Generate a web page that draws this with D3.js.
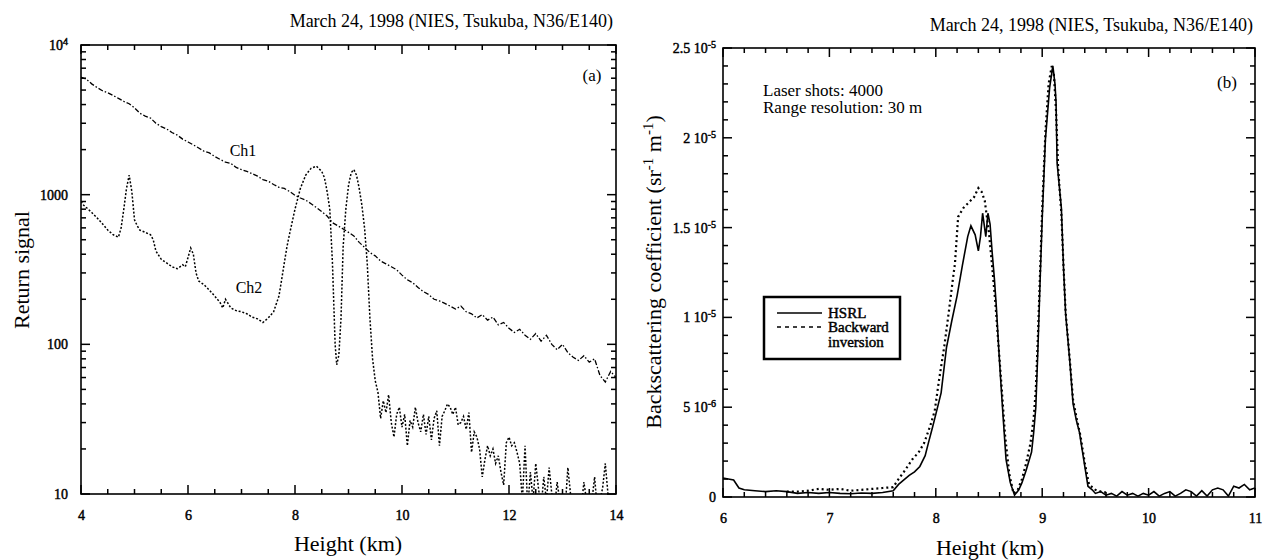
<!DOCTYPE html>
<html>
<head>
<meta charset="utf-8">
<script src="https://cdn.jsdelivr.net/npm/d3@7"></script>
<style>
  body { margin: 0; background: #fff; }
  text { font-family: "Liberation Serif", "Times New Roman", serif; fill: #000; }
</style>
</head>
<body>
<svg id="chart" width="1264" height="560"></svg>
<script>
// ---- panel (a): return signals ----
var ch1Height = [4.0,4.1,4.2,4.3,4.4,4.5,4.6,4.7,4.8,4.9,
  5.0,5.1,5.2,5.3,5.4,5.5,5.6,5.7,5.8,5.9,
  6.0,6.1,6.2,6.3,6.4,6.5,6.6,6.7,6.8,6.9,
  7.0,7.1,7.2,7.3,7.4,7.5,7.6,7.7,7.8,7.9,
  8.0,8.1,8.2,8.3,8.4,8.5,8.6,8.7,8.8,8.9,
  9.0,9.1,9.2,9.3,9.4,9.5,9.6,9.7,9.8,9.9,
  10.0,10.1,10.2,10.3,10.4,10.5,10.6,10.7,10.8,10.9,
  11.0,11.1,11.2,11.3,11.4,11.5,11.6,11.7,11.8,11.9,
  12.0,12.1,12.2,12.3,12.4,12.5,12.6,12.7,12.8,12.9,
  13.0,13.1,13.2,13.3,13.4,13.5,13.6,13.7,13.8,13.9,14.0];
var ch1Signal = [6100,5900,5500,5200,4950,4800,4600,4400,4200,4050,
  3800,3500,3350,3250,3000,2850,2750,2600,2500,2350,
  2250,2150,2050,1950,1900,1800,1720,1650,1620,1520,
  1470,1430,1380,1330,1260,1230,1170,1120,1100,1050,
  990,950,920,870,820,770,720,650,620,590,
  560,530,480,445,410,390,360,345,330,315,
  290,270,258,240,225,215,200,195,188,180,
  172,180,165,160,150,158,145,152,135,140,
  128,120,126,115,108,118,105,115,100,92,
  100,88,82,78,84,76,80,62,56,66,60];

var ch2Height = [4.0,4.05,4.1,4.2,4.3,4.4,4.5,4.55,4.6,4.7,
  4.75,4.8,4.85,4.9,4.95,5.0,5.05,5.1,5.2,5.3,
  5.35,5.4,5.5,5.6,5.7,5.8,5.9,5.95,6.0,6.05,
  6.1,6.15,6.2,6.3,6.4,6.5,6.6,6.65,6.7,6.8,
  6.9,7.0,7.1,7.2,7.3,7.4,7.5,7.6,7.7,7.75,
  7.8,7.85,7.9,8.0,8.1,8.2,8.3,8.4,8.5,8.55,
  8.6,8.65,8.7,8.75,8.78,8.82,8.86,8.9,8.95,9.0,
  9.05,9.1,9.15,9.2,9.25,9.3,9.35,9.4,9.45,
  9.5,9.55,9.6,9.65,9.7,9.75,9.8,9.85,9.9,9.95,
  10.0,10.05,10.1,10.15,10.2,10.25,10.3,10.35,10.4,10.45,
  10.5,10.55,10.6,10.65,10.7,10.75,10.8,10.85,10.9,10.95,
  11.0,11.05,11.1,11.15,11.2,11.25,11.3,11.35,11.4,11.45,
  11.5,11.55,11.6,11.65,11.7,11.75,11.8,11.85,11.9,11.95,
  12.0,12.05,12.1,12.15,12.2,12.25,12.3,12.35,12.4,12.45,
  12.5,12.55,12.6,12.65,12.7,12.75,12.8,12.85,12.9,12.95,
  13.0,13.05,13.1,13.15,13.2,13.25,13.3,13.35,13.4,13.45,
  13.5,13.55,13.6,13.65,13.7,13.75,13.8,13.85,13.9];
var ch2Signal = [900,850,820,760,700,640,580,560,540,520,
  600,800,1100,1350,1050,680,620,580,560,540,
  500,420,370,350,330,320,340,330,380,440,
  400,300,265,250,230,210,190,175,200,175,
  168,165,160,152,148,140,150,165,210,270,
  350,450,550,800,1100,1350,1500,1550,1430,1300,
  1050,800,350,100,73,85,150,450,800,1150,
  1400,1470,1350,1100,850,600,350,150,80,
  57,48,32,42,35,46,30,24,34,38,
  28,34,21,31,28,38,30,26,34,25,
  33,23,32,36,21,33,36,40,38,34,
  38,29,30,33,27,35,19,26,24,20,
  13,17,21,18,20,16,18,14,11.5,22,
  24,21,22,19,16,9,21,8,14,9,
  16,11,8,13,9,15,10,8,12,9,
  10,8,15,10,8,9,8,8,12,9,
  8,9,13,8,9,11,16,10,8];

var xTicksA = [4, 6, 8, 10, 12, 14];
var xMinorA = [4.5, 5, 5.5, 6.5, 7, 7.5, 8.5, 9, 9.5, 10.5, 11, 11.5, 12.5, 13, 13.5];
var yTicksA = [10, 100, 1000, 10000];
var yMinorA = [20, 30, 40, 50, 60, 70, 80, 90, 200, 300, 400, 500, 600, 700, 800, 900,
  2000, 3000, 4000, 5000, 6000, 7000, 8000, 9000];

// ---- panel (b): backscattering coefficient, in units of 1e-6 sr-1 m-1 ----
var hsrlHeight = [6.0,6.05,6.1,6.15,6.2,6.3,6.4,6.5,6.6,6.7,
  6.8,6.9,7.0,7.1,7.2,7.3,7.4,7.5,7.6,7.65,
  7.7,7.75,7.8,7.85,7.9,7.93,7.97,8.0,8.05,8.1,
  8.15,8.2,8.25,8.3,8.33,8.37,8.4,8.42,8.44,8.47,
  8.49,8.51,8.53,8.55,8.57,8.59,8.61,8.63,8.66,8.7,
  8.74,8.78,8.81,8.85,8.9,8.92,8.94,8.96,8.98,9.0,
  9.03,9.07,9.1,9.12,9.13,9.14,9.18,9.2,9.22,9.26,
  9.29,9.32,9.35,9.39,9.43,9.47,9.5,
  9.55,9.6,9.65,9.7,9.75,9.8,9.85,9.9,9.95,10.0,
  10.05,10.1,10.15,10.2,10.25,10.3,10.35,10.4,10.45,10.5,
  10.55,10.6,10.65,10.7,10.75,10.8,10.85,10.9,10.95,11.0];
var hsrlBeta = [1.05,1.0,0.95,0.5,0.4,0.35,0.3,0.35,0.3,0.2,
  0.25,0.2,0.25,0.2,0.18,0.22,0.2,0.25,0.35,0.7,
  0.95,1.2,1.4,1.7,2.3,3.0,3.9,4.6,5.8,8.3,
  9.8,11.2,12.9,14.5,15.1,14.6,13.7,14.5,15.8,14.5,
  15.8,15.2,13.6,12.2,10.5,8.4,6.5,4.7,2.1,0.8,
  0.1,0.4,0.8,1.5,2.5,3.6,5.0,8.3,12.0,15.5,
  19.9,22.8,24.0,23.0,22.0,18.6,16.1,12.8,10.2,7.5,
  5.2,4.3,3.6,2.1,0.6,0.4,0.2,
  0.3,0.1,0.2,0.05,0.3,0.1,0.2,0.05,0.2,0.1,
  0.3,0.05,0.2,0.3,0.05,0.2,0.4,0.3,0.05,0.35,
  0.05,0.4,0.5,0.4,0.05,0.6,0.5,0.7,0.4,0.5];

var bwdHeight = [6.6,6.7,6.8,6.9,7.0,7.1,7.2,7.3,7.4,7.5,
  7.6,7.65,7.7,7.78,7.84,7.89,7.95,7.99,8.03,8.08,
  8.12,8.16,8.18,8.21,8.26,8.31,8.36,8.4,8.43,8.46,
  8.5,8.53,8.56,8.59,8.62,8.65,8.69,8.73,8.77,8.81,
  8.85,8.89,8.92,8.94,8.96,8.98,9.0,9.03,9.06,9.09,
  9.11,9.13,9.15,9.18,9.2,9.22,9.26,9.29,9.33,9.36,
  9.4,9.44,9.5,9.55,9.6];
var bwdBeta = [0.3,0.3,0.35,0.45,0.4,0.45,0.35,0.4,0.45,0.5,
  0.55,1.0,1.4,2.1,2.5,3.0,4.0,4.8,6.5,8.4,
  10.2,12.1,13.0,15.6,16.1,16.4,16.7,17.2,17.0,16.5,
  14.7,12.8,10.8,8.4,6.0,3.5,1.3,0.2,0.4,1.0,
  1.9,3.0,4.4,6.0,9.0,12.5,16.0,20.3,23.0,24.0,
  23.5,21.5,18.3,15.8,12.9,10.3,7.6,5.4,4.2,3.4,
  1.9,0.7,0.4,0.3,0.25];

var xTicksB = [6, 7, 8, 9, 10, 11];
var xMinorB = [6.2, 6.4, 6.6, 6.8, 7.2, 7.4, 7.6, 7.8, 8.2, 8.4, 8.6, 8.8,
  9.2, 9.4, 9.6, 9.8, 10.2, 10.4, 10.6, 10.8];
var yTicksB = [0, 5, 10, 15, 20, 25];
var yMinorB = [1, 2, 3, 4, 6, 7, 8, 9, 11, 12, 13, 14, 16, 17, 18, 19, 21, 22, 23, 24];
var yTickBaseB = ["0", "5 10", "1 10", "1.5 10", "2 10", "2.5 10"];
var yTickSupB = ["", "-6", "-5", "-5", "-5", "-5"];

var titleText = "March 24, 1998 (NIES, Tsukuba, N36/E140)";

var svg = d3.select("#chart");
svg.append("rect").attr("width", 1264).attr("height", 560).attr("fill", "#fff");

var serif = "Liberation Serif, Times New Roman, serif";

// inward ticks drawn as small filled bars, positioned by the scales
function tickBars(g, x, y, xMajor, xMinor, yMajor, yMinor) {
  var x0 = x.range()[0], x1 = x.range()[1], yb = y.range()[0], yt = y.range()[1];
  var bars = [];
  function addX(vals, len) {
    vals.forEach(function(v) {
      var px = x(v);
      bars.push({x: px - 0.75, y: yb - len, w: 1.5, h: len});
      bars.push({x: px - 0.75, y: yt, w: 1.5, h: len});
    });
  }
  function addY(vals, len) {
    vals.forEach(function(v) {
      var py = y(v);
      bars.push({x: x0, y: py - 0.75, w: len, h: 1.5});
      bars.push({x: x1 - len, y: py - 0.75, w: len, h: 1.5});
    });
  }
  addX(xMinor, 5); addX(xMajor, 9); addY(yMinor, 5); addY(yMajor, 9);
  g.selectAll(null).data(bars).enter().append("rect")
    .attr("x", function(d) { return d.x; }).attr("y", function(d) { return d.y; })
    .attr("width", function(d) { return d.w; }).attr("height", function(d) { return d.h; })
    .attr("fill", "#000");
}

function drawFrame(g, x, y, xMajor, xMinor, yMajor, yMinor) {
  var x0 = x.range()[0], x1 = x.range()[1], yb = y.range()[0], yt = y.range()[1];
  g.append("rect").attr("x", x0).attr("y", yt).attr("width", x1 - x0).attr("height", yb - yt)
    .attr("fill", "none").attr("stroke", "#000").attr("stroke-width", 1.6);
  tickBars(g, x, y, xMajor, xMinor, yMajor, yMinor);
}

function heavy(s, size) {
  s.attr("font-size", size).attr("font-family", serif)
    .attr("stroke", "#000").attr("stroke-width", 0.45);
}

function xLabels(g, x, yb, values) {
  g.append("g").attr("transform", "translate(0," + yb + ")")
    .call(d3.axisBottom(x).tickValues(values).tickSize(0).tickPadding(16).tickFormat(d3.format("d")))
    .call(function(s) {
      s.select(".domain").remove();
      s.attr("font-family", serif);
      heavy(s.selectAll("text"), 14);
    });
}

function supText(sel, base, sup, supSize) {
  sel.text(null);
  sel.append("tspan").text(base);
  if (sup) sel.append("tspan").attr("dy", "-0.5em").attr("font-size", supSize).text(sup);
}

function clip(id, x, y) {
  svg.append("clipPath").attr("id", id).append("rect")
    .attr("x", x.range()[0]).attr("y", y.range()[1])
    .attr("width", x.range()[1] - x.range()[0]).attr("height", y.range()[0] - y.range()[1]);
}

// ---------------- panel (a) ----------------
var xA = d3.scaleLinear().domain([4, 14]).range([81, 616]);
var yA = d3.scaleLog().domain([10, 10000]).range([494, 45]);
var gA = svg.append("g");

clip("clipA", xA, yA);
var lineA = d3.line().x(function(d) { return xA(d[0]); }).y(function(d) { return yA(d[1]); });
var plotA = gA.append("g").attr("clip-path", "url(#clipA)");
plotA.append("path").datum(d3.zip(ch1Height, ch1Signal)).attr("d", lineA)
  .attr("fill", "none").attr("stroke", "#000").attr("stroke-width", 1.3)
  .attr("stroke-dasharray", "5,2,1.5,2");
plotA.append("path").datum(d3.zip(ch2Height, ch2Signal)).attr("d", lineA)
  .attr("fill", "none").attr("stroke", "#000").attr("stroke-width", 1.5)
  .attr("stroke-dasharray", "2,1.8");

xLabels(gA, xA, 494, xTicksA);
gA.append("g").attr("transform", "translate(81,0)")
  .call(d3.axisLeft(yA).tickValues(yTicksA).tickSize(0).tickPadding(13).tickFormat(d3.format("d")))
  .call(function(s) {
    s.select(".domain").remove();
    s.attr("font-family", serif);
    heavy(s.selectAll("text"), 14);
    s.selectAll("text").each(function(d) { if (d >= 10000) supText(d3.select(this), "10", "4", 10); });
  });

gA.append("text").attr("x", 243).attr("y", 156).attr("text-anchor", "middle")
  .attr("font-size", 16).text("Ch1");
gA.append("text").attr("x", 249).attr("y", 293).attr("text-anchor", "middle")
  .attr("font-size", 16).text("Ch2");
gA.append("text").attr("x", 592).attr("y", 81).attr("text-anchor", "middle")
  .attr("font-size", 17).text("(a)");
gA.append("text").attr("x", 613).attr("y", 27).attr("text-anchor", "end")
  .attr("font-size", 18).text(titleText);
gA.append("text").attr("x", 348).attr("y", 551).attr("text-anchor", "middle")
  .attr("font-size", 22).text("Height (km)");
gA.append("text").attr("transform", "translate(29,270) rotate(-90)").attr("text-anchor", "middle")
  .attr("font-size", 22).text("Return signal");

// ---------------- panel (b) ----------------
var xB = d3.scaleLinear().domain([6, 11]).range([723, 1255]);
var yB = d3.scaleLinear().domain([0, 25]).range([497, 48]);
var gB = svg.append("g");

clip("clipB", xB, yB);
var lineB = d3.line().x(function(d) { return xB(d[0]); }).y(function(d) { return yB(d[1]); });
var plotB = gB.append("g").attr("clip-path", "url(#clipB)");
plotB.append("path").datum(d3.zip(bwdHeight, bwdBeta)).attr("d", lineB)
  .attr("fill", "none").attr("stroke", "#000").attr("stroke-width", 2.2)
  .attr("stroke-dasharray", "2,3");
plotB.append("path").datum(d3.zip(hsrlHeight, hsrlBeta)).attr("d", lineB)
  .attr("fill", "none").attr("stroke", "#000").attr("stroke-width", 1.6);

xLabels(gB, xB, 497, xTicksB);
gB.append("g").attr("transform", "translate(723,0)")
  .call(d3.axisLeft(yB).tickValues(yTicksB).tickSize(0).tickPadding(7).tickFormat(""))
  .call(function(s) {
    s.select(".domain").remove();
    s.attr("font-family", serif);
    heavy(s.selectAll("text"), 14);
    s.selectAll("text").each(function(d, i) { supText(d3.select(this), yTickBaseB[i], yTickSupB[i], 10); });
  });

gB.append("text").attr("x", 1227).attr("y", 88).attr("text-anchor", "middle")
  .attr("font-size", 17).text("(b)");
gB.append("text").attr("x", 1253).attr("y", 31).attr("text-anchor", "end")
  .attr("font-size", 18).text(titleText);
gB.append("text").attr("x", 763).attr("y", 96).attr("font-size", 17).text("Laser shots: 4000");
gB.append("text").attr("x", 763).attr("y", 113).attr("font-size", 17).text("Range resolution: 30 m");
gB.append("text").attr("x", 990).attr("y", 555).attr("text-anchor", "middle")
  .attr("font-size", 22).text("Height (km)");

var yLab = gB.append("text").attr("transform", "translate(661,272) rotate(-90)")
  .attr("text-anchor", "middle").attr("font-size", 22);
yLab.append("tspan").text("Backscattering coefficient (sr");
yLab.append("tspan").attr("dy", -8).attr("font-size", 15).text("-1");
yLab.append("tspan").attr("dy", 8).text(" m");
yLab.append("tspan").attr("dy", -8).attr("font-size", 15).text("-1");
yLab.append("tspan").attr("dy", 8).text(")");

// legend
var leg = gB.append("g");
leg.append("rect").attr("x", 764).attr("y", 297).attr("width", 136).attr("height", 62)
  .attr("fill", "#fff").attr("stroke", "#000").attr("stroke-width", 2.5);
leg.append("line").attr("x1", 777).attr("x2", 822).attr("y1", 313).attr("y2", 313)
  .attr("stroke", "#000").attr("stroke-width", 1.6);
leg.append("line").attr("x1", 777).attr("x2", 822).attr("y1", 327).attr("y2", 327)
  .attr("stroke", "#000").attr("stroke-width", 1.6).attr("stroke-dasharray", "4,4");
[["HSRL", 318], ["Backward", 332], ["inversion", 347]].forEach(function(t) {
  heavy(leg.append("text").attr("x", 828).attr("y", t[1]).text(t[0]), 15);
});

// frames and ticks last, on top of everything
drawFrame(svg.append("g"), xA, yA, xTicksA, xMinorA, yTicksA, yMinorA);
drawFrame(svg.append("g"), xB, yB, xTicksB, xMinorB, yTicksB, yMinorB);
</script>
</body>
</html>
